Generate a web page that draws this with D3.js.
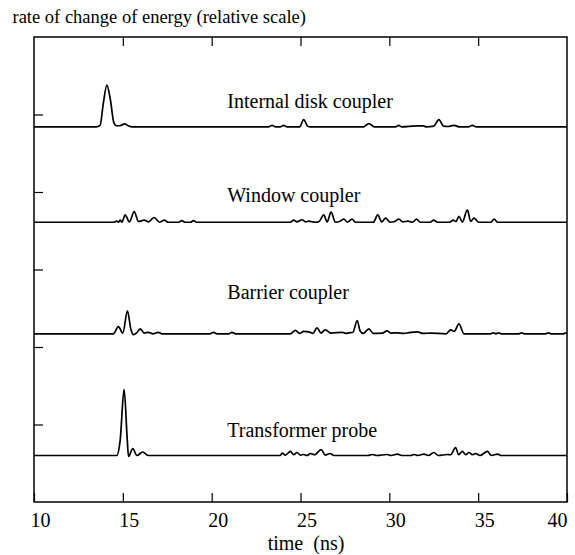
<!DOCTYPE html>
<html>
<head>
<meta charset="utf-8">
<script src="https://cdn.jsdelivr.net/npm/d3@7"></script>
<style>
    body { margin: 0; background: white; }
    svg text { font-family: "Liberation Serif", "Times New Roman", serif; font-size: 20px; fill: #000; }
</style>
</head>
<body>
<div id="chart"></div>
<script>
// series: [time (ns), rate of change of energy above the trace's own baseline]
const internalDisk = [
    [10, 0], [13.5, 0], [13.72, 0.02], [13.9, 0.3], [14.1, 0.54], [14.3, 0.35], [14.5, 0.05],
    [14.65, 0.015], [14.85, 0.015], [15.09, 0.04], [15.3, 0.015], [15.5, 0], [23.2, 0], [23.4, 0.02],
    [23.6, 0], [23.85, 0], [24.05, 0.02], [24.25, 0], [24.95, 0], [25.18, 0.095], [25.4, 0.01],
    [25.56, 0], [28.55, 0], [28.85, 0.043], [29.15, 0], [30.35, 0], [30.53, 0.02], [30.7, 0],
    [31.5, 0.013], [31.9, 0.013], [32.1, 0], [32.5, 0.01], [32.79, 0.095], [33.05, 0.01],
    [33.3, 0.005], [33.64, 0.02], [33.95, 0], [34.45, 0], [34.67, 0.02], [34.9, 0], [40, 0]
];
const windowCoupler = [
    [10, 0], [14.47, 0], [14.66, 0.013], [14.75, 0], [14.85, 0.026], [14.95, 0], [15.13, 0.094],
    [15.37, 0.005], [15.64, 0.138], [15.88, 0.01], [16.2, 0.026], [16.45, 0.005], [16.76, 0.061],
    [17.06, 0], [17.34, 0.026], [17.55, 0], [18.15, 0], [18.32, 0.02], [18.5, 0], [18.8, 0],
    [18.98, 0.02], [19.15, 0], [24.43, 0], [24.62, 0.026], [24.8, 0.005], [25.09, 0.032],
    [25.3, 0.005], [25.46, 0.013], [25.84, 0], [26.05, 0.01], [26.31, 0.094], [26.5, 0.005],
    [26.72, 0.13], [26.97, 0], [27.2, 0.01], [27.44, 0.039], [27.65, 0], [27.9, 0.039], [28.1, 0],
    [29.1, 0], [29.35, 0.094], [29.57, 0.005], [29.79, 0.052], [30.05, 0], [30.3, 0.01],
    [30.54, 0.039], [30.75, 0.005], [31.05, 0.013], [31.3, 0], [31.53, 0.039], [31.75, 0],
    [32.3, 0], [32.5, 0.026], [32.7, 0], [33.4, 0], [33.6, 0.026], [33.75, 0.01], [33.92, 0.077],
    [34.11, 0], [34.39, 0.159], [34.58, 0.01], [34.76, 0.052], [35.04, 0], [35.7, 0],
    [35.9, 0.039], [36.1, 0], [40, 0]
];
const barrierCoupler = [
    [10, 0], [14.47, 0], [14.75, 0.094], [15.0, 0.01], [15.26, 0.297], [15.45, 0.06], [15.6, -0.01],
    [15.8, 0.02], [15.98, 0.065], [16.2, 0.01], [16.44, 0.02], [16.7, 0], [17.0, 0.02], [17.2, 0],
    [19.9, 0], [20.1, 0.019], [20.3, 0], [20.95, 0], [21.14, 0.019], [21.35, 0], [24.43, 0],
    [24.71, 0.045], [24.95, 0.005], [25.18, 0.032], [25.46, 0.026], [25.7, 0.005], [25.93, 0.077],
    [26.15, 0.01], [26.4, 0.052], [26.7, 0.01], [27.35, 0.02], [27.55, 0.005], [27.72, 0.013],
    [27.95, 0.02], [28.19, 0.172], [28.35, 0.04], [28.53, 0.005], [28.85, 0.065], [29.1, 0.005],
    [29.6, 0.01], [29.88, 0.039], [30.07, 0.01], [30.45, 0.013], [30.8, 0.005], [31.1, 0.015],
    [31.57, 0.026], [31.9, 0.005], [32.3, 0.01], [33.2, 0], [33.45, 0.052], [33.65, 0.03],
    [33.92, 0.129], [34.2, 0], [35.7, 0], [35.85, 0.013], [36.0, 0], [36.15, 0.013], [36.3, 0],
    [37.3, 0], [37.45, 0.013], [37.6, 0], [38.8, 0], [38.95, 0.013], [39.1, 0], [39.8, 0],
    [39.95, 0.013], [40, 0]
];
const transformerProbe = [
    [10, 0], [14.66, 0], [14.85, 0.194], [15.07, 0.852], [15.25, 0.2], [15.32, -0.013], [15.56, 0.09],
    [15.79, 0], [16.12, 0.045], [16.44, 0], [23.87, 0], [23.96, 0.032], [24.15, 0.005],
    [24.43, 0.052], [24.62, 0.01], [24.8, 0.039], [25.0, 0.005], [25.18, 0.013], [25.36, 0],
    [25.56, 0.026], [25.8, 0.01], [26.16, 0.077], [26.4, 0.005], [26.65, 0.026], [26.9, 0],
    [28.8, 0], [29.04, 0.013], [29.3, 0], [29.88, 0.013], [30.1, 0], [30.45, 0.019], [30.7, 0],
    [31.2, 0], [31.4, 0.013], [31.6, 0], [31.95, 0.019], [32.2, 0], [32.51, 0.039], [32.75, 0],
    [33.26, 0.013], [33.45, 0.01], [33.73, 0.103], [33.9, 0.01], [34.11, 0.052], [34.3, 0.01],
    [34.48, 0.039], [34.68, 0.01], [34.86, 0.026], [35.1, 0], [35.52, 0.052], [35.75, 0],
    [36.08, 0.019], [36.3, 0], [40, 0]
];

const seriesNames = ['Internal disk coupler', 'Window coupler', 'Barrier coupler', 'Transformer probe'];
const seriesBaselines = [4.84, 3.61, 2.17, 0.60];
const xTicks = [10, 15, 20, 25, 30, 35, 40];
const yTicks = [1, 2, 3, 4, 5];
const yTitle = 'rate of change of energy (relative scale)';
const xTitle = 'time  (ns)';

// where each trace's name sits, in data units
const labelPos = [[20.88, 5.09], [20.88, 3.867], [20.88, 2.619], [20.88, 0.843]];

const margin = { top: 37, right: 8, bottom: 53, left: 34 };
const W = 575, H = 555;
const w = W - margin.left - margin.right;
const h = H - margin.top - margin.bottom;

const x = d3.scaleLinear().domain([10, 40]).range([0, w]);
const y = d3.scaleLinear().domain([0, 6]).range([h, 0]);

const svg = d3.select('#chart').append('svg')
    .attr('width', W)
    .attr('height', H);

svg.append('text')
    .attr('x', 12.5)
    .attr('y', 23)
    .style('font-size', '18.5px')
    .text(yTitle);

const chart = svg.append('g')
    .attr('transform', 'translate(' + margin.left + ', ' + margin.top + ')');

// bottom axis: inward ticks + labels
const bottom = chart.append('g')
    .attr('transform', 'translate(0, ' + h + ')')
    .call(d3.axisBottom(x).tickValues(xTicks).tickSize(-9).tickPadding(11).tickFormat(d3.format('d')));
bottom.selectAll('text')
    .attr('dx', (d, i) => i === xTicks.length - 1 ? 0 : 6)
    .attr('text-anchor', (d, i) => i === xTicks.length - 1 ? 'end' : 'middle');

chart.append('g')
    .call(d3.axisTop(x).tickValues(xTicks.slice(1, -1)).tickSize(-9).tickFormat(''));

chart.append('g')
    .call(d3.axisLeft(y).tickValues(yTicks).tickSize(-9).tickFormat(''));

chart.selectAll('.domain').remove();
chart.selectAll('.tick line').attr('stroke', '#000').attr('stroke-width', 1.2);
chart.selectAll('.tick text').style('font-size', '20px').style('font-family', '"Liberation Serif", serif');

chart.append('rect')
    .attr('width', w)
    .attr('height', h)
    .style('fill', 'none')
    .style('stroke', '#000')
    .style('stroke-width', 1.5);

const traces = [internalDisk, windowCoupler, barrierCoupler, transformerProbe];

traces.forEach((s, i) => {
    const line = d3.line()
        .x(d => x(d[0]))
        .y(d => y(seriesBaselines[i] + d[1]))
        .curve(d3.curveMonotoneX);
    chart.append('path')
        .datum(s)
        .attr('d', line)
        .style('fill', 'none')
        .style('stroke', '#000')
        .style('stroke-width', 1.7)
        .style('stroke-linejoin', 'round');
});

chart.selectAll('.series-label')
    .data(seriesNames)
    .enter()
    .append('text')
        .attr('class', 'series-label')
        .attr('x', (d, i) => x(labelPos[i][0]))
        .attr('y', (d, i) => y(labelPos[i][1]))
        .text(d => d);

svg.append('text')
    .attr('x', margin.left + w / 2 + 5.5)
    .attr('y', 550)
    .attr('text-anchor', 'middle')
    .style('white-space', 'pre')
    .text(xTitle);
</script>
</body>
</html>
